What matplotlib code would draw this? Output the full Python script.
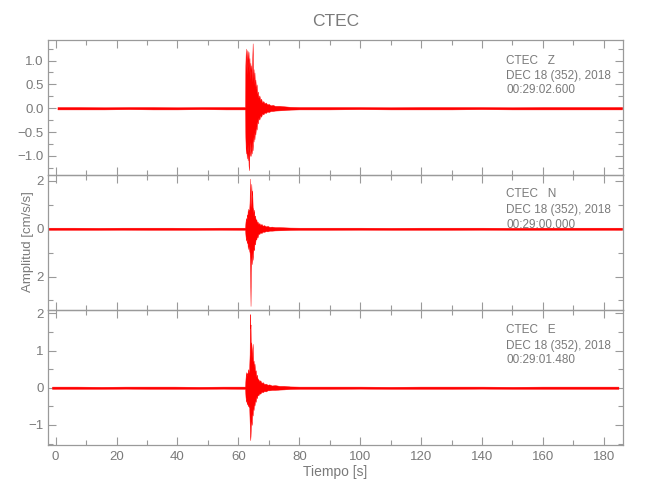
import matplotlib
matplotlib.use("Agg")
import matplotlib.pyplot as plt
from matplotlib.ticker import MultipleLocator, FixedLocator, FixedFormatter

plt.rcParams['font.family'] = ['Liberation Sans', 'DejaVu Sans']

# ---------------- data ----------------
title = "CTEC"
xlabel = "Tiempo [s]"
ylabel = "Amplitud [cm/s/s]"

channels = ["Z", "N", "E"]
dates = ["DEC 18 (352), 2018", "DEC 18 (352), 2018", "DEC 18 (352), 2018"]
start_times = ["00:29:02.600", "00:29:00.000", "00:29:01.480"]

# Z component: envelope of the trace (time [s], upper, lower)
z_t = [0.6, 8, 16, 24, 32, 40, 48, 56, 62.2,
       62.3, 62.45, 62.6, 62.75, 62.9, 63.05, 63.2, 63.35, 63.5, 63.65, 63.8, 63.95,
       64.1, 64.25, 64.4, 64.55, 64.7, 64.85, 65.0, 65.15, 65.3, 65.45, 65.6, 65.8,
       66.0, 66.2, 66.4, 66.6, 66.9, 67.2, 67.5, 67.8, 68.2, 68.6, 69.0, 69.5, 70.0,
       70.6, 71.3, 72.0, 73.5, 75.0, 77.0,
       80, 90, 100, 110, 120, 130, 140, 150, 160, 170, 180, 186]
z_hi = [0.025, 0.025, 0.02, 0.025, 0.025, 0.02, 0.025, 0.025, 0.025,
        0.9, 1.25, 0.8, 1.22, 0.7, 1.2, 0.85, 1.18, 0.75, 1.05, 0.6, 0.95,
        0.7, 0.9, 0.55, 1.0, 1.36, 0.6, 0.82, 0.5, 0.75, 0.45, 0.6, 0.4,
        0.5, 0.3, 0.35, 0.22, 0.27, 0.17, 0.2, 0.12, 0.15, 0.1, 0.12, 0.08, 0.09,
        0.06, 0.07, 0.05, 0.05, 0.04, 0.03,
        0.025, 0.025, 0.025, 0.02, 0.025, 0.025, 0.025, 0.02, 0.025, 0.025, 0.025, 0.025]
z_lo = [-0.025, -0.025, -0.025, -0.02, -0.025, -0.025, -0.02, -0.025, -0.025,
        -0.6, -0.95, -0.7, -1.05, -0.8, -1.09, -0.75, -1.2, -1.3, -0.9, -1.0, -0.7,
        -1.0, -0.8, -0.95, -0.7, -0.88, -0.6, -0.7, -0.5, -0.65, -0.45, -0.55, -0.38,
        -0.45, -0.28, -0.32, -0.2, -0.24, -0.15, -0.18, -0.11, -0.13, -0.09, -0.1, -0.07, -0.08,
        -0.06, -0.06, -0.05, -0.045, -0.04, -0.03,
        -0.025, -0.025, -0.02, -0.025, -0.025, -0.025, -0.02, -0.025, -0.025, -0.025, -0.025, -0.025]

# N component
n_t = [-2.6, 6, 14, 22, 30, 38, 46, 54, 62.2,
       62.35, 62.5, 62.65, 62.8, 62.95, 63.1, 63.25, 63.4, 63.55, 63.7, 63.8, 63.9,
       64.0, 64.1, 64.25, 64.4, 64.55, 64.7, 64.85, 65.0, 65.15, 65.3, 65.5, 65.7,
       65.9, 66.1, 66.3, 66.6, 66.9, 67.2, 67.6, 68.0, 68.5, 69.0, 69.6, 70.2, 71.0,
       72.0, 73.5, 75.0, 77.0,
       80, 90, 100, 110, 120, 130, 140, 150, 160, 170, 180, 186]
n_hi = [0.045, 0.045, 0.04, 0.045, 0.045, 0.045, 0.04, 0.045, 0.045,
        0.3, 0.45, 0.3, 0.6, 0.5, 0.84, 0.6, 0.8, 0.7, 1.2, 2.1, 1.1,
        0.9, 1.1, 1.88, 1.4, 1.6, 0.9, 0.84, 0.6, 0.8, 0.5, 0.55, 0.35,
        0.4, 0.25, 0.3, 0.2, 0.24, 0.16, 0.2, 0.13, 0.15, 0.1, 0.12, 0.08, 0.09,
        0.07, 0.07, 0.06, 0.05,
        0.045, 0.045, 0.045, 0.04, 0.045, 0.045, 0.045, 0.04, 0.045, 0.045, 0.045, 0.045]
n_lo = [-0.045, -0.045, -0.045, -0.04, -0.045, -0.045, -0.045, -0.04, -0.045,
        -0.3, -0.5, -0.35, -0.6, -0.5, -0.85, -0.6, -0.8, -0.9, -1.0, -1.3, -2.2,
        -3.23, -1.8, -1.2, -1.48, -1.0, -1.3, -0.99, -0.8, -0.9, -0.6, -0.65, -0.4,
        -0.45, -0.3, -0.36, -0.2, -0.22, -0.15, -0.18, -0.12, -0.13, -0.1, -0.11, -0.08, -0.08,
        -0.07, -0.065, -0.06, -0.05,
        -0.045, -0.045, -0.04, -0.045, -0.045, -0.045, -0.04, -0.045, -0.045, -0.045, -0.045, -0.045]

# E component
e_t = [-1.2, 7, 15, 23, 31, 39, 47, 55, 62.2,
       62.35, 62.5, 62.65, 62.8, 62.95, 63.1, 63.25, 63.4, 63.55, 63.7, 63.8, 63.9,
       64.0, 64.1, 64.25, 64.4, 64.55, 64.7, 64.85, 65.0, 65.15, 65.3, 65.5, 65.7,
       65.9, 66.1, 66.3, 66.6, 66.9, 67.2, 67.6, 68.0, 68.5, 69.0, 69.6, 70.2, 71.0,
       72.0, 73.5, 75.0, 77.0,
       80, 90, 100, 110, 120, 130, 140, 150, 160, 170, 180, 184.8]
e_hi = [0.03, 0.03, 0.025, 0.03, 0.03, 0.03, 0.025, 0.03, 0.03,
        0.25, 0.42, 0.3, 0.4, 0.35, 0.45, 0.5, 0.4, 0.51, 0.9, 1.98, 1.6,
        1.7, 1.0, 1.22, 0.8, 1.0, 1.18, 0.7, 0.73, 0.55, 0.65, 0.45, 0.47,
        0.3, 0.35, 0.25, 0.22, 0.18, 0.2, 0.13, 0.15, 0.1, 0.11, 0.08, 0.09, 0.06,
        0.07, 0.05, 0.05, 0.035,
        0.03, 0.03, 0.03, 0.025, 0.03, 0.03, 0.03, 0.025, 0.03, 0.03, 0.03, 0.03]
e_lo = [-0.03, -0.03, -0.03, -0.025, -0.03, -0.03, -0.03, -0.025, -0.03,
        -0.25, -0.38, -0.3, -0.45, -0.35, -0.5, -0.4, -0.52, -0.45, -0.9, -1.2, -1.41,
        -1.3, -1.05, -0.9, -1.0, -0.7, -0.75, -0.55, -0.6, -0.43, -0.48, -0.35, -0.38,
        -0.25, -0.28, -0.2, -0.2, -0.15, -0.16, -0.11, -0.12, -0.09, -0.1, -0.07, -0.07, -0.06,
        -0.06, -0.05, -0.045, -0.035,
        -0.03, -0.03, -0.025, -0.03, -0.03, -0.03, -0.025, -0.03, -0.03, -0.03, -0.03, -0.03]

# axis ranges and tick labels
x_ticks = [0, 20, 40, 60, 80, 100, 120, 140, 160, 180]
x_ticklabels = ["0", "20", "40", "60", "80", "100", "120", "140", "160", "180"]
z_ticks = [1.0, 0.5, 0.0, -0.5, -1.0]
z_ticklabels = ["1.0", "0.5", "0.0", "\u22120.5", "\u22121.0"]
n_ticks = [2, 0, -2]
n_ticklabels = ["2", "0", "2"]
e_ticks = [2, 1, 0, -1]
e_ticklabels = ["2", "1", "0", "\u22121"]

# ---------------- drawing ----------------
GRAY_TXT = "#7a7a7a"
GRAY_AX = "#9a9a9a"
RED = "#ff0000"

fig = plt.figure(figsize=(6.5, 5.0), dpi=100)
L, W = 47.7 / 650, (623 - 47.7) / 650
panel_h = 135 / 500
bottoms = [(500 - 175) / 500, (500 - 310) / 500, (500 - 445) / 500]

series = [(z_t, z_hi, z_lo), (n_t, n_hi, n_lo), (e_t, e_hi, e_lo)]
ylims = [(-1.40, 1.43), (-3.40, 2.25), (-1.54, 2.09)]
yticks = [(z_ticks, z_ticklabels, 0.25), (n_ticks, n_ticklabels, 1.0), (e_ticks, e_ticklabels, 0.5)]
text_offsets = [(21, 35.5, 50), (19, 35, 50), (20, 35.5, 50)]

axes = []
for i in range(3):
    ax = fig.add_axes([L, bottoms[i], W, panel_h])
    axes.append(ax)
    t, hi, lo = series[i]
    ax.fill_between(t, lo, hi, color=RED, linewidth=0.3, edgecolor=RED, zorder=2)
    ax.set_xlim(-2.6, 186.3)
    ax.set_ylim(*ylims[i])
    ax.xaxis.set_major_locator(FixedLocator(x_ticks))
    ax.xaxis.set_minor_locator(MultipleLocator(10))
    tk, tl, mn = yticks[i]
    ax.yaxis.set_major_locator(FixedLocator(tk))
    ax.yaxis.set_major_formatter(FixedFormatter(tl))
    ax.yaxis.set_minor_locator(MultipleLocator(mn))
    if i == 2:
        ax.xaxis.set_major_formatter(FixedFormatter(x_ticklabels))
    else:
        ax.tick_params(axis='x', which='both', labelbottom=False)
    ax.tick_params(which='both', direction='in', top=True, right=True,
                   colors=GRAY_AX, labelcolor=GRAY_TXT, labelsize=9.5, width=0.8)
    ax.tick_params(which='major', length=6)
    ax.tick_params(which='minor', length=3.5)
    ax.tick_params(axis='y', pad=3)
    ax.tick_params(axis='x', pad=4)
    for s in ax.spines.values():
        s.set_color(GRAY_AX)
        s.set_linewidth(0.9)
    ax.patch.set_visible(False)
    offs = text_offsets[i]
    lines = [f"CTEC   {channels[i]}", dates[i], start_times[i]]
    for off, txt in zip(offs, lines):
        ax.text(0.797, 1 - off / 135, txt, transform=ax.transAxes, ha='left', va='center',
                fontsize=8.5, color=GRAY_TXT, zorder=1)

axes[2].set_xlabel(xlabel, fontsize=10, color=GRAY_TXT, labelpad=2)
fig.text(28 / 650, 1 - 242 / 500, ylabel, rotation=90, ha='center', va='center',
         fontsize=9.5, color=GRAY_TXT)
fig.text(336 / 650, 1 - 22 / 500, title, ha='center', va='center', fontsize=12.5, color=GRAY_TXT)

fig.savefig("out.png", dpi=100)
